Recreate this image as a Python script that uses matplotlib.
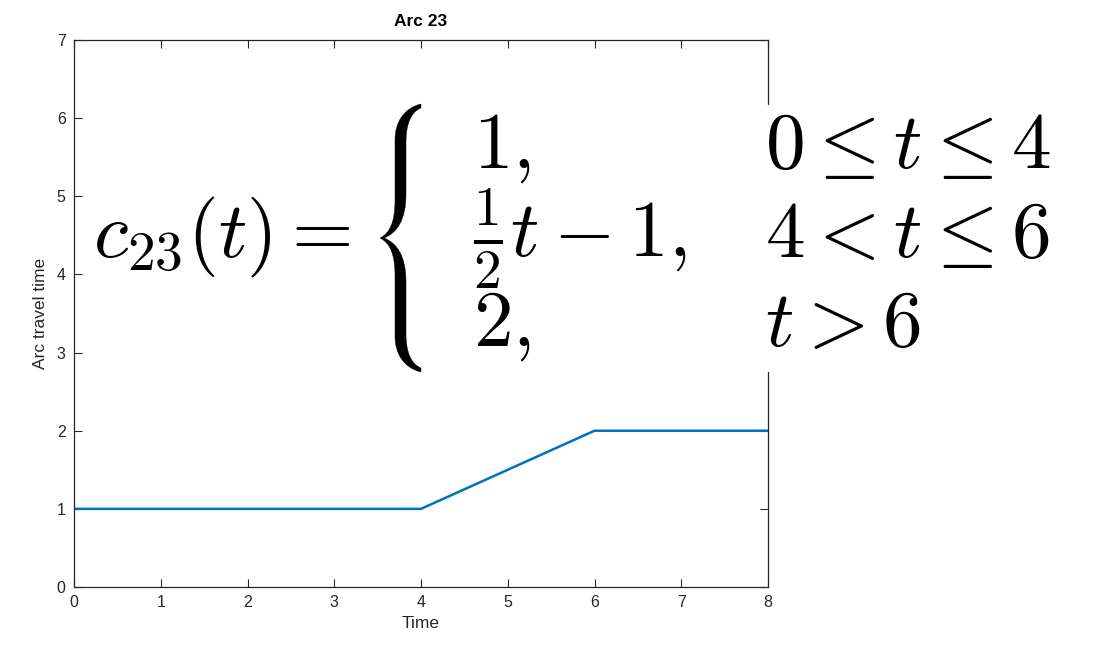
import matplotlib
matplotlib.use("Agg")
import matplotlib.pyplot as plt
from matplotlib.patches import Rectangle, PathPatch
from matplotlib.path import Path

# travel time on arc 23, piecewise linear in t
t_pts = [0, 4, 6, 8]
cost = [1, 1, 2, 2]
xticks = [0, 1, 2, 3, 4, 5, 6, 7, 8]
yticks = [0, 1, 2, 3, 4, 5, 6, 7]

# formula pieces: value column and condition column
lhs = r"$c_{23}(t) =$"
values = [r"$1,$", r"$\frac{1}{2}t - 1,$", r"$2,$"]
conds = [r"$0 \leq t \leq 4$", r"$4 < t \leq 6$", r"$t > 6$"]

plt.rcParams["font.family"] = ["Liberation Sans", "DejaVu Sans"]
plt.rcParams["mathtext.fontset"] = "cm"

W, H = 1094, 654
fig = plt.figure(figsize=(W / 100, H / 100), dpi=100)
ax = fig.add_axes([74 / W, 1 - 587 / H, (768 - 74) / W, (587 - 40) / H])

grey = "#262626"
ax.plot(t_pts, cost, color="#0072BD", lw=1.8)
ax.set_xlim(0, 8)
ax.set_ylim(0, 7)
ax.set_xticks(xticks)
ax.set_yticks(yticks)
ax.tick_params(direction="in", length=6, width=0.8, colors=grey, labelsize=11.5,
               top=True, right=True, pad=6)
for s in ax.spines.values():
    s.set_color(grey)
    s.set_linewidth(0.9)
ax.set_title("Arc 23", fontsize=12.5, fontweight="bold", color="black", pad=10)
ax.set_xlabel("Time", fontsize=12.5, color=grey, labelpad=4)
ax.set_ylabel("Arc travel time", fontsize=12.5, color=grey, labelpad=6)

# overlay in pixel coordinates (y downwards) for the formula block
ov = fig.add_axes([0, 0, 1, 1], zorder=5)
ov.set_xlim(0, W)
ov.set_ylim(H, 0)
ov.axis("off")
ov.add_patch(Rectangle((88, 105), W - 88, 267, facecolor="white", edgecolor="none"))

# curly brace outline
M, L, C = Path.MOVETO, Path.LINETO, Path.CURVE4
verts = [
    (421, 104),
    (404, 108), (395, 122), (395, 140),
    (395, 200),
    (395, 222), (390, 233), (380, 238),
    (390, 243), (395, 254), (395, 276),
    (395, 336),
    (395, 354), (404, 368), (421, 372),
    (421, 368),
    (411, 364), (406, 352), (406, 334),
    (406, 282),
    (406, 256), (397, 243), (384, 238),
    (397, 233), (406, 220), (406, 194),
    (406, 142),
    (406, 124), (411, 112), (421, 108),
    (421, 104),
]
codes = [M, C, C, C, L, C, C, C, C, C, C, L, C, C, C, L,
         C, C, C, L, C, C, C, C, C, C, L, C, C, C, Path.CLOSEPOLY]
ov.add_patch(PathPatch(Path(verts, codes), facecolor="black", edgecolor="black", lw=0.3))

fs = 57
ov.text(93, 257, lhs, fontsize=fs, ha="left", va="baseline")
rows_y = [168, 257, 346]
for v, c, yb in zip(values, conds, rows_y):
    ov.text(473, yb, v, fontsize=fs, ha="left", va="baseline")
    ov.text(765, yb, c, fontsize=fs, ha="left", va="baseline")

fig.savefig("out.png", dpi=100, facecolor="white")
